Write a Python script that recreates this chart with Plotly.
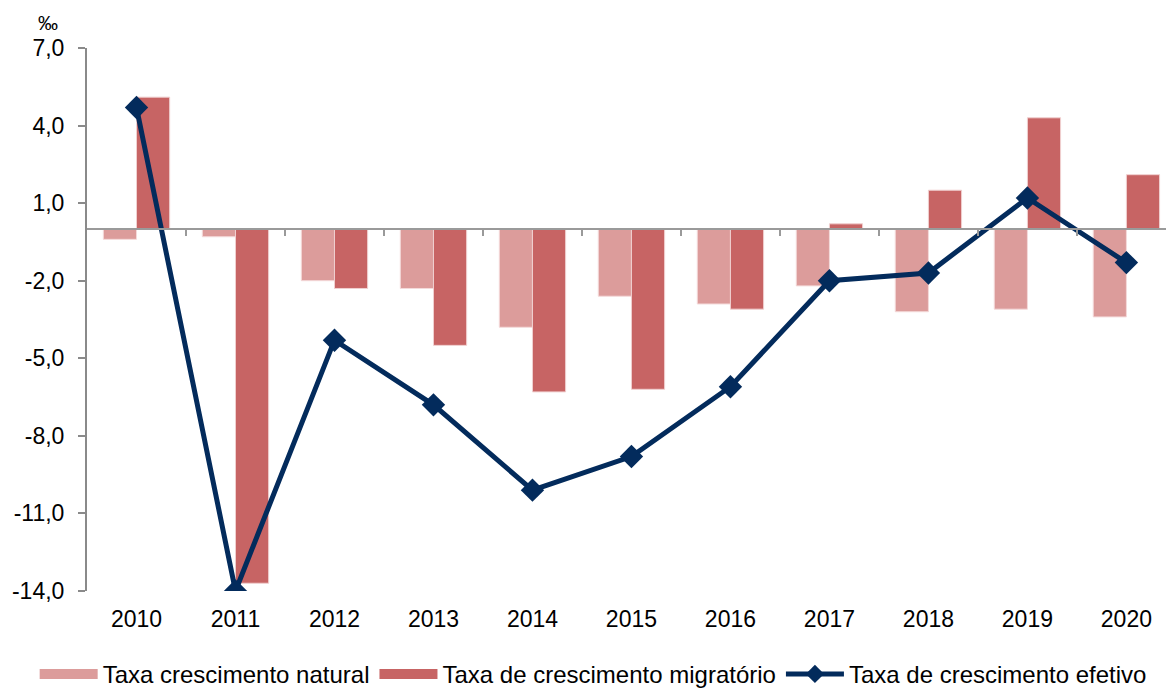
import plotly.graph_objects as go

years = ["2010", "2011", "2012", "2013", "2014", "2015", "2016", "2017", "2018", "2019", "2020"]
natural = [-0.4, -0.3, -2.0, -2.3, -3.8, -2.6, -2.9, -2.2, -3.2, -3.1, -3.4]
migratorio = [5.1, -13.7, -2.3, -4.5, -6.3, -6.2, -3.1, 0.2, 1.5, 4.3, 2.1]
efetivo = [4.7, -14.0, -4.3, -6.8, -10.1, -8.8, -6.1, -2.0, -1.7, 1.2, -1.3]
ytick_vals = [7, 4, 1, -2, -5, -8, -11, -14]
ytick_text = ["7,0", "4,0", "1,0", "-2,0", "-5,0", "-8,0", "-11,0", "-14,0"]

xpos = list(range(len(years)))
FONT = "Liberation Sans, Arial, sans-serif"
C_NAT = "#DC9C9B"
C_MIG = "#C76464"
C_EFE = "#032B5C"

fig = go.Figure()
fig.add_trace(go.Bar(
    x=xpos, y=natural, name="Taxa crescimento natural", legendgroup="nat",
    showlegend=False,
    marker=dict(color=C_NAT, line=dict(color="#F4DADA", width=1)),
))
fig.add_trace(go.Bar(
    x=xpos, y=migratorio, name="Taxa de crescimento migratório", legendgroup="mig",
    showlegend=False,
    marker=dict(color=C_MIG, line=dict(color="#F0D0D0", width=1)),
))
fig.add_trace(go.Scatter(
    x=xpos, y=efetivo, name="Taxa de crescimento efetivo", legendgroup="efe",
    mode="lines+markers", showlegend=False,
    line=dict(color=C_EFE, width=5),
    marker=dict(symbol="diamond", size=18, color=C_EFE),
))
# legend entries (wide swatches like the original)
fig.add_trace(go.Scatter(
    x=[None], y=[None], mode="lines", name="Taxa crescimento natural",
    legendgroup="nat", line=dict(color=C_NAT, width=15), hoverinfo="skip",
))
fig.add_trace(go.Scatter(
    x=[None], y=[None], mode="lines", name="Taxa de crescimento migratório",
    legendgroup="mig", line=dict(color=C_MIG, width=15), hoverinfo="skip",
))
fig.add_trace(go.Scatter(
    x=[None], y=[None], mode="lines+markers", name="Taxa de crescimento efetivo",
    legendgroup="efe", line=dict(color=C_EFE, width=5),
    marker=dict(symbol="diamond", size=14, color=C_EFE), hoverinfo="skip",
))
# invisible helper trace for the zero-line axis
fig.add_trace(go.Scatter(
    x=[0], y=[0], xaxis="x2", mode="markers",
    marker=dict(opacity=0), showlegend=False, hoverinfo="skip",
))

xrange = [-0.5, 10.4]
fig.update_layout(
    width=1166, height=688,
    margin=dict(l=87, r=0, t=48, b=97, autoexpand=False),
    paper_bgcolor="white", plot_bgcolor="white",
    barmode="group", bargap=0.33, bargroupgap=0,
    font=dict(family=FONT, size=23, color="#000000"),
    xaxis=dict(
        range=xrange, tickmode="array", tickvals=xpos, ticktext=years,
        showline=False, ticks="", showgrid=False, zeroline=False,
        ticklabelstandoff=12, tickfont=dict(size=23),
    ),
    xaxis2=dict(
        overlaying="x", anchor="free", position=14 / 21, side="bottom",
        range=xrange, tickmode="array",
        tickvals=[i + 0.5 for i in xpos],
        showticklabels=False, showline=True, linecolor="#9A9A9A", linewidth=2,
        ticks="outside", ticklen=6, tickwidth=2, tickcolor="#9A9A9A",
        showgrid=False, zeroline=False,
    ),
    yaxis=dict(
        range=[-14, 7], tickmode="array", tickvals=ytick_vals, ticktext=ytick_text,
        showgrid=False, zeroline=False,
        showline=True, linecolor="#8A8A8A", linewidth=2,
        ticks="outside", ticklen=7, tickwidth=2, tickcolor="#8A8A8A",
        ticklabelstandoff=9, tickfont=dict(size=23),
    ),
    legend=dict(
        orientation="h", x=-0.0485, xanchor="left", y=-0.112, yanchor="top",
        font=dict(size=24), itemwidth=58, tracegroupgap=0,
        traceorder="normal",
    ),
    annotations=[dict(
        text="‰", xref="paper", yref="paper", x=-0.036, y=1.0,
        xanchor="center", yanchor="bottom", showarrow=False, yshift=12,
        font=dict(size=20),
    )],
)

fig.write_html("out.html", config={"displayModeBar": False},
               post_script="document.body.style.margin='0';")
